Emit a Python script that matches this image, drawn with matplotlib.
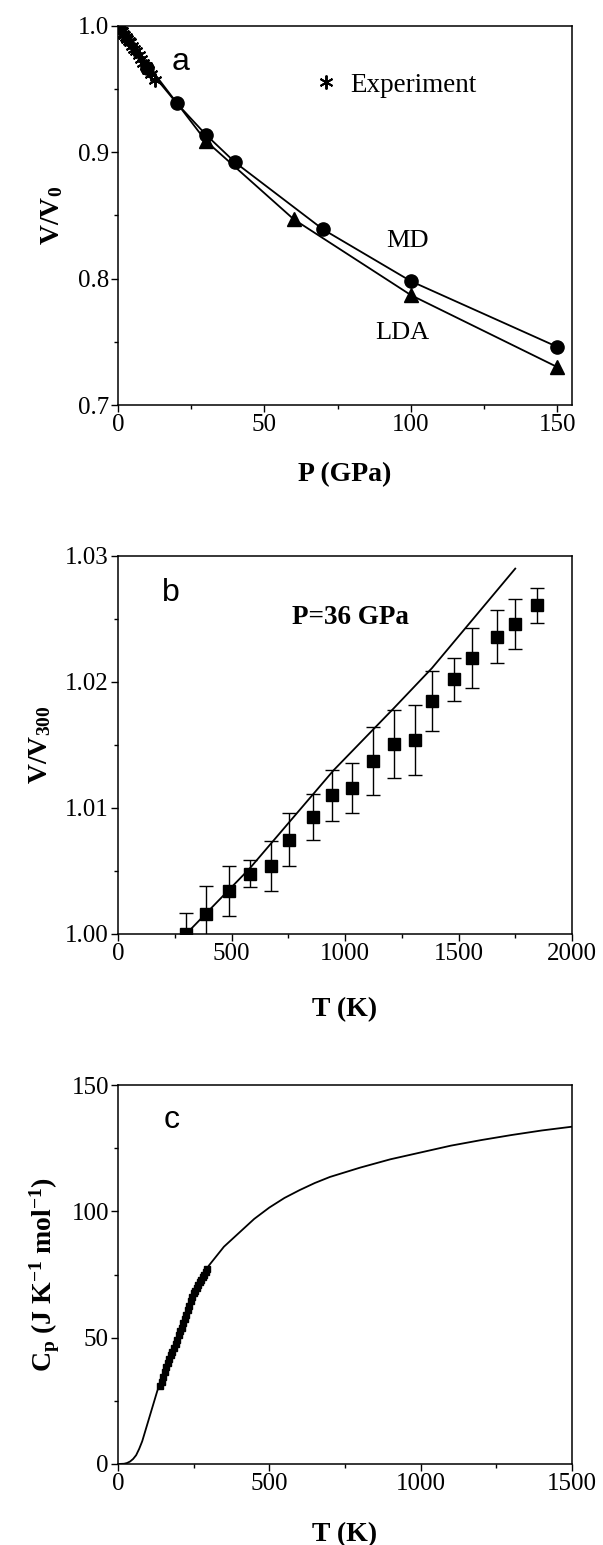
import matplotlib
matplotlib.use("Agg")
import matplotlib.pyplot as plt
from matplotlib.ticker import MultipleLocator, FormatStrFormatter
from matplotlib.lines import Line2D

plt.rcParams['font.family'] = ['Liberation Serif', 'DejaVu Serif']
plt.rcParams['mathtext.fontset'] = 'custom'
plt.rcParams['mathtext.rm'] = 'Liberation Serif'
plt.rcParams['mathtext.bf'] = 'Liberation Serif:bold'
plt.rcParams['mathtext.it'] = 'Liberation Serif:italic'

# ---------------- data: panel a ----------------
md_P = [0, 10, 20, 30, 40, 70, 100, 150]
md_V = [1.000, 0.967, 0.939, 0.914, 0.892, 0.839, 0.798, 0.746]
lda_P = [0, 30, 60, 100, 150]
lda_V = [1.000, 0.909, 0.847, 0.787, 0.730]
exp_P = [0.0, 0.3, 0.8, 1.2, 1.7, 2.1, 2.6, 3.0, 3.6, 4.1, 4.8, 5.5, 6.2, 7.0,
         7.8, 8.6, 9.5, 10.3, 11.2, 12.8]
exp_V = [1.000, 0.999, 0.997, 0.996, 0.994, 0.993, 0.991, 0.990, 0.988, 0.987,
         0.984, 0.982, 0.980, 0.977, 0.974, 0.971, 0.968, 0.965, 0.962, 0.957]

# ---------------- data: panel b ----------------
b_T = [301, 386, 488, 580, 675, 753, 859, 944, 1032, 1125, 1214, 1310, 1384,
       1482, 1561, 1671, 1750, 1847]
b_V = [1.0000, 1.0016, 1.0034, 1.0048, 1.0054, 1.0075, 1.0093, 1.0110, 1.0116,
       1.0137, 1.0151, 1.0154, 1.0185, 1.0202, 1.0219, 1.0236, 1.0246, 1.0261]
b_err = [0.0017, 0.0022, 0.0020, 0.0011, 0.0020, 0.0021, 0.0018, 0.0020, 0.0020,
         0.0027, 0.0027, 0.0028, 0.0024, 0.0017, 0.0024, 0.0021, 0.0020, 0.0014]
line_T = [300, 580, 950, 1214, 1383, 1750]
line_V = [1.0000, 1.0052, 1.0130, 1.0179, 1.0211, 1.0290]

# ---------------- data: panel c ----------------
cp_T = [0, 20, 30, 40, 50, 60, 70, 80, 90, 100, 110, 120, 130, 140, 150, 160,
        180, 200, 220, 240, 260, 280, 300, 350, 400, 450, 500, 550, 600, 650,
        700, 800, 900, 1000, 1100, 1200, 1300, 1400, 1500]
cp_V = [0, 0.1, 0.4, 1.0, 2.0, 3.5, 6.0, 9.0, 13.0, 17.0, 21.0, 25.0, 29.0, 32.0,
        35.0, 38.5, 45.0, 51.0, 57.0, 63.0, 69.0, 73.5, 78.5, 86.0, 91.5, 97.0,
        101.5, 105.3, 108.4, 111.2, 113.6, 117.3, 120.6, 123.3, 126.0, 128.2,
        130.2, 132.0, 133.5]
cpexp_T = [140, 145, 150, 155, 160, 165, 170, 175, 180, 185, 190, 195, 200, 205,
           210, 215, 220, 225, 230, 235, 240, 245, 250, 255, 260, 265, 270, 275,
           280, 285, 290, 295]
cpexp_V = [31, 32.5, 34.5, 36.5, 38.5, 40, 41.5, 43, 44.5, 46, 47.5, 49, 51, 52.5,
           54, 56, 57.5, 59, 61, 62.5, 64.5, 66, 67.5, 68.5, 69.5, 71, 72, 73, 74,
           75, 76, 77]

W, H = 603, 1545
fig = plt.figure(figsize=(W / 100, H / 100), dpi=100)


def make_ax(top_px, bottom_px):
    left, right = 118, 572
    return fig.add_axes([left / W, 1 - bottom_px / H, (right - left) / W,
                         (bottom_px - top_px) / H])


def style(ax):
    for s in ax.spines.values():
        s.set_linewidth(1.1)
    ax.tick_params(which='both', direction='out', top=False, right=False,
                   labelsize=18, width=1.0)
    ax.tick_params(which='major', length=5, pad=1.5)
    ax.tick_params(which='minor', length=3)


LABFS = 20
LETFS = 23

# ---------------- panel a ----------------
axa = make_ax(26, 405)
style(axa)
axa.plot(md_P, md_V, '-', color='black', lw=1.3, marker='o', ms=9.5)
axa.plot(lda_P, lda_V, '-', color='black', lw=1.3, marker='^', ms=10)
axa.plot(exp_P, exp_V, ls='none', color='black', marker=(6, 2, 0), ms=10, mew=1.4)
axa.set_xlim(0, 155)
axa.set_ylim(0.7, 1.0)
axa.xaxis.set_major_locator(MultipleLocator(50))
axa.xaxis.set_minor_locator(MultipleLocator(25))
axa.yaxis.set_major_locator(MultipleLocator(0.1))
axa.yaxis.set_minor_locator(MultipleLocator(0.05))
axa.yaxis.set_major_formatter(FormatStrFormatter('%.1f'))
axa.set_xlabel('P (GPa)', fontsize=LABFS, fontweight='bold')
axa.set_ylabel(r'$\mathbf{V/V_0}$', fontsize=LABFS)
axa.text(21.5, 0.9715, 'a', fontsize=LETFS, family='Liberation Sans', ha='center', va='center')
axa.text(98.8, 0.830, 'MD', fontsize=19, ha='center', va='center')
axa.text(97.1, 0.757, 'LDA', fontsize=19, ha='center', va='center')
h = Line2D([], [], ls='none', color='black', marker=(6, 2, 0), ms=10, mew=1.4)
axa.legend([h], ['Experiment'], loc='center left', bbox_to_anchor=(0.38, 0.844),
           frameon=False, fontsize=19.5, handlelength=0.8, handletextpad=0.5)

# ---------------- panel b ----------------
axb = make_ax(556, 934)
style(axb)
axb.plot(line_T, line_V, '-', color='black', lw=1.3)
axb.errorbar(b_T, b_V, yerr=b_err, fmt='s', color='black', ms=8.5, ecolor='black',
             elinewidth=1.0, capsize=4.7, capthick=1.0)
axb.set_xlim(0, 2000)
axb.set_ylim(1.0, 1.03)
axb.xaxis.set_major_locator(MultipleLocator(500))
axb.xaxis.set_minor_locator(MultipleLocator(250))
axb.yaxis.set_major_locator(MultipleLocator(0.01))
axb.yaxis.set_minor_locator(MultipleLocator(0.005))
axb.yaxis.set_major_formatter(FormatStrFormatter('%.2f'))
axb.set_xlabel('T (K)', fontsize=LABFS, fontweight='bold')
axb.set_ylabel(r'$\mathbf{V/V_{300}}$', fontsize=LABFS)
axb.text(233, 1.0271, 'b', fontsize=LETFS, family='Liberation Sans', ha='center', va='center')
axb.text(1025, 1.0251, 'P=36 GPa', fontsize=19.5, fontweight='bold', ha='center', va='center')

# ---------------- panel c ----------------
axc = make_ax(1085, 1464)
style(axc)
axc.plot(cp_T, cp_V, '-', color='black', lw=1.3)
axc.plot(cpexp_T, cpexp_V, ls='none', color='black', marker='s', ms=4.5)
axc.set_xlim(0, 1500)
axc.set_ylim(0, 150)
axc.xaxis.set_major_locator(MultipleLocator(500))
axc.xaxis.set_minor_locator(MultipleLocator(250))
axc.yaxis.set_major_locator(MultipleLocator(50))
axc.yaxis.set_minor_locator(MultipleLocator(25))
axc.set_xlabel('T (K)', fontsize=LABFS, fontweight='bold')
axc.set_ylabel(r'$\mathbf{C_p\ (J\ K^{-1}\ mol^{-1})}$', fontsize=LABFS)
axc.text(177, 136.3, 'c', fontsize=LETFS, family='Liberation Sans', ha='center', va='center')

# label placements
for ax, xl_y, yl_x, bot, top in [(axa, 475, 52, 405, 26), (axb, 1010, 40, 934, 556),
                                 (axc, 1535, 45, 1464, 1085)]:
    hpx = bot - top
    ax.xaxis.label.set_va('center')
    ax.xaxis.set_label_coords(0.5, -(xl_y - bot) / hpx)
    ax.yaxis.label.set_va('center')
    ax.yaxis.set_label_coords((yl_x - 118) / 454, 0.5)

fig.savefig('out.png', dpi=100)
